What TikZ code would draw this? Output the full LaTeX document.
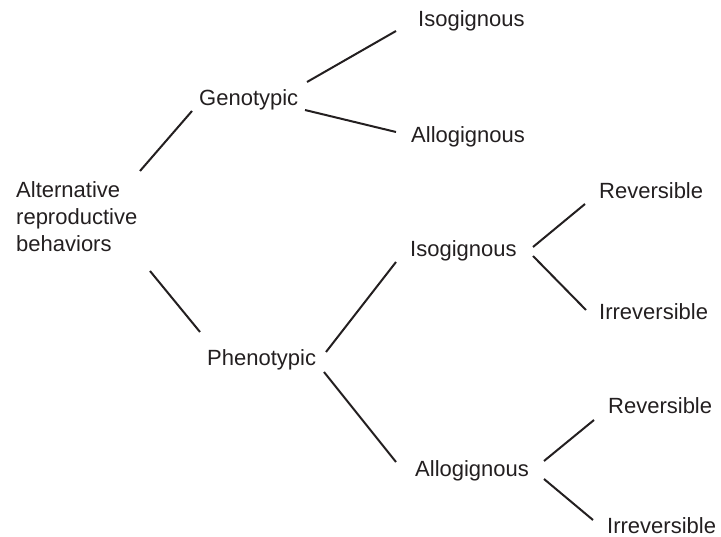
\documentclass[tikz,border=0pt]{standalone}
\usepackage{fontspec}
\setmainfont{Liberation Sans}
\usetikzlibrary{calc}
\definecolor{ink}{HTML}{231F20}
\begin{document}
\begin{tikzpicture}[x=1pt,y=-1pt,
  lbl/.style={inner sep=0pt, anchor=base west, text=ink, font=\fontsize{22}{27}\selectfont},
  conn/.style={draw=ink, line width=2pt}]
\useasboundingbox (0,0) rectangle (721,537);
\node[lbl, anchor=north west, align=left] (alt) at (16,181) {Alternative\\reproductive\\behaviors};
\node[lbl] (geno)  at (199,106) {Genotypic};
\node[lbl] (iso1)  at (418,27)  {Isogignous};
\node[lbl] (allo1) at (411,143) {Allogignous};
\node[lbl] (pheno) at (207,366) {Phenotypic};
\node[lbl] (iso2)  at (410,257) {Isogignous};
\node[lbl] (allo2) at (415,477) {Allogignous};
\node[lbl] (rev1)  at (599,199) {Reversible};
\node[lbl] (irr1)  at (599,320) {Irreversible};
\node[lbl] (rev2)  at (608,414) {Reversible};
\node[lbl] (irr2)  at (607,533) {Irreversible};
\draw[conn] ($(alt.north west)+(124,-10)$) -- ($(geno.base west)+(-7,5)$);
\draw[conn] ($(alt.north west)+(134,90)$) -- ($(pheno.base west)+(-7,-34)$);
\draw[conn] ($(geno.base west)+(108,-24)$) -- ($(iso1.base west)+(-22,4)$);
\draw[conn] ($(geno.base west)+(106,4)$) -- ($(allo1.base west)+(-15,-11)$);
\draw[conn] ($(pheno.base west)+(119,-14)$) -- ($(iso2.base west)+(-14,5)$);
\draw[conn] ($(pheno.base west)+(117,6)$) -- ($(allo2.base west)+(-19,-15)$);
\draw[conn] ($(iso2.base west)+(123,-10)$) -- ($(rev1.base west)+(-14,5)$);
\draw[conn] ($(iso2.base west)+(123,-1)$) -- ($(irr1.base west)+(-13,-10)$);
\draw[conn] ($(allo2.base west)+(129,-16)$) -- ($(rev2.base west)+(-14,6)$);
\draw[conn] ($(allo2.base west)+(129,2)$) -- ($(irr2.base west)+(-14,-13)$);
\end{tikzpicture}
\end{document}
